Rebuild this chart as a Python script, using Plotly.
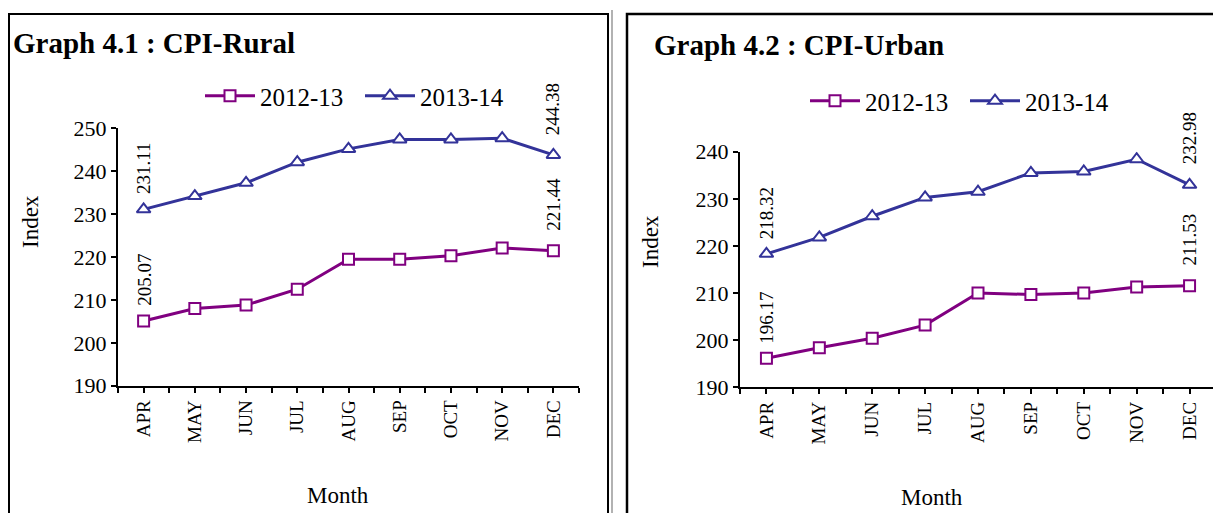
"""CPI Rural and Urban index, 2012-13 vs 2013-14."""
import plotly.graph_objects as go

months = ['APR', 'MAY', 'JUN', 'JUL', 'AUG', 'SEP', 'OCT', 'NOV', 'DEC']

rural_1213 = [205.07, 208.0, 208.8, 212.5, 219.5, 219.5, 220.3, 222.1, 221.44]
rural_1314 = [231.11, 234.2, 237.3, 242.1, 245.2, 247.4, 247.4, 247.7, 243.8]
urban_1213 = [196.17, 198.4, 200.4, 203.2, 210.0, 209.7, 210.0, 211.3, 211.53]
urban_1314 = [218.32, 221.8, 226.3, 230.3, 231.5, 235.5, 235.8, 238.4, 232.98]

rural_labels = {'2012-13': ['205.07', '221.44'], '2013-14': ['231.11', '244.38']}
urban_labels = {'2012-13': ['196.17', '211.53'], '2013-14': ['218.32', '232.98']}

rural_yticks = [190, 200, 210, 220, 230, 240, 250]
urban_yticks = [190, 200, 210, 220, 230, 240]

PURPLE = '#800080'
BLUE = '#333399'
FONT = 'Liberation Serif'
W, H = 1221, 513
OFF = 8  # page body margin shifts the figure
x = list(range(len(months)))


# screen pixel -> paper coords
def px(v):
    return (v - OFF) / W


def py(v):
    return 1 - (v - OFF) / H


fig = go.Figure()


def add_pair(y1, y2, xa, ya, leg):
    fig.add_trace(go.Scatter(
        x=x, y=y1, name='2012-13', mode='lines+markers', xaxis=xa, yaxis=ya,
        legend=leg, line=dict(color=PURPLE, width=3),
        marker=dict(symbol='square', size=11, color='white',
                    line=dict(color=PURPLE, width=2))))
    fig.add_trace(go.Scatter(
        x=x, y=y2, name='2013-14', mode='lines+markers', xaxis=xa, yaxis=ya,
        legend=leg, line=dict(color=BLUE, width=3),
        marker=dict(symbol='triangle-up', size=12, color='white',
                    line=dict(color=BLUE, width=2))))


add_pair(rural_1213, rural_1314, 'x', 'y', 'legend')
add_pair(urban_1213, urban_1314, 'x2', 'y2', 'legend2')

axis_common = dict(showline=True, linecolor='black', linewidth=2,
                   showgrid=False, zeroline=False, ticks='outside',
                   ticklen=5, tickwidth=1.5, tickcolor='black',
                   automargin=False)
minor_ticks = dict(tick0=-0.5, dtick=0.5, ticks='outside', ticklen=5,
                   tickwidth=1.5, tickcolor='black')
ytickfont = dict(family=FONT, size=22, color='black')
xtickfont = dict(family=FONT, size=19, color='black')
legend_common = dict(orientation='h', yanchor='middle', xanchor='left',
                     font=dict(family=FONT, size=25),
                     bgcolor='rgba(0,0,0,0)', itemwidth=50,
                     entrywidth=95, entrywidthmode='pixels')

fig.update_layout(
    width=W, height=H, autosize=False,
    margin=dict(l=0, r=0, t=0, b=0, pad=0, autoexpand=False),
    paper_bgcolor='white', plot_bgcolor='white',
    font=dict(family=FONT, size=20, color='black'),
    xaxis=dict(domain=[px(118), px(579)], anchor='y', range=[-0.5, 8.5],
               tickvals=x, ticktext=months, tickangle=-90,
               minor=minor_ticks, tickfont=xtickfont, **axis_common),
    yaxis=dict(domain=[py(385.7), py(128.3)], anchor='x', range=[190, 250],
               tickvals=rural_yticks, tickfont=ytickfont, **axis_common),
    xaxis2=dict(domain=[px(740), px(1216)], anchor='y2', range=[-0.5, 8.5],
                tickvals=x, ticktext=months, tickangle=-90,
                minor=minor_ticks, tickfont=xtickfont, **axis_common),
    yaxis2=dict(domain=[py(387.3), py(151.7)], anchor='x2', range=[190, 240],
                tickvals=urban_yticks, tickfont=ytickfont, **axis_common),
    legend=dict(x=px(200), y=py(96), **legend_common),
    legend2=dict(x=px(805), y=py(101), **legend_common),
)

# panel frames
fig.add_shape(type='rect', xref='paper', yref='paper',
              x0=px(9), x1=px(608), y0=-0.1, y1=py(14),
              line=dict(color='black', width=2))
fig.add_shape(type='rect', xref='paper', yref='paper',
              x0=px(627), x1=1.1, y0=-0.1, y1=py(14),
              line=dict(color='black', width=2.5))
fig.add_shape(type='line', xref='paper', yref='paper',
              x0=px(612), x1=px(612), y0=-0.1, y1=py(10),
              line=dict(color='#999999', width=1.5))

# titles
fig.add_annotation(text='<b>Graph 4.1 : CPI-Rural</b>', xref='paper',
                   yref='paper', x=px(11), y=py(43), xanchor='left',
                   yanchor='middle', showarrow=False,
                   font=dict(family=FONT, size=29))
fig.add_annotation(text='<b>Graph 4.2 : CPI-Urban</b>', xref='paper',
                   yref='paper', x=px(652), y=py(45), xanchor='left',
                   yanchor='middle', showarrow=False,
                   font=dict(family=FONT, size=29))

# axis titles
for xp, yp in [(30, 222), (650, 242)]:
    fig.add_annotation(text='Index', xref='paper', yref='paper',
                       x=px(xp), y=py(yp), textangle=-90,
                       xanchor='center', yanchor='middle',
                       showarrow=False, font=dict(family=FONT, size=23))
for xp, yp in [(338, 495), (932, 497)]:
    fig.add_annotation(text='Month', xref='paper', yref='paper',
                       x=px(xp), y=py(yp), xanchor='center',
                       yanchor='middle', showarrow=False,
                       font=dict(family=FONT, size=23))

# data labels at first and last point
for xa, ya, labels, s1, s2 in [('x', 'y', rural_labels, rural_1213, rural_1314),
                               ('x2', 'y2', urban_labels, urban_1213, urban_1314)]:
    for series, key in [(s1, '2012-13'), (s2, '2013-14')]:
        for idx, txt, shift in zip([0, len(months) - 1], labels[key], [13, 18]):
            fig.add_annotation(text=txt, x=idx, y=series[idx], xref=xa,
                               yref=ya, textangle=-90, showarrow=False,
                               yanchor='bottom', yshift=shift,
                               font=dict(family=FONT, size=19))

fig.write_html("out.html")
